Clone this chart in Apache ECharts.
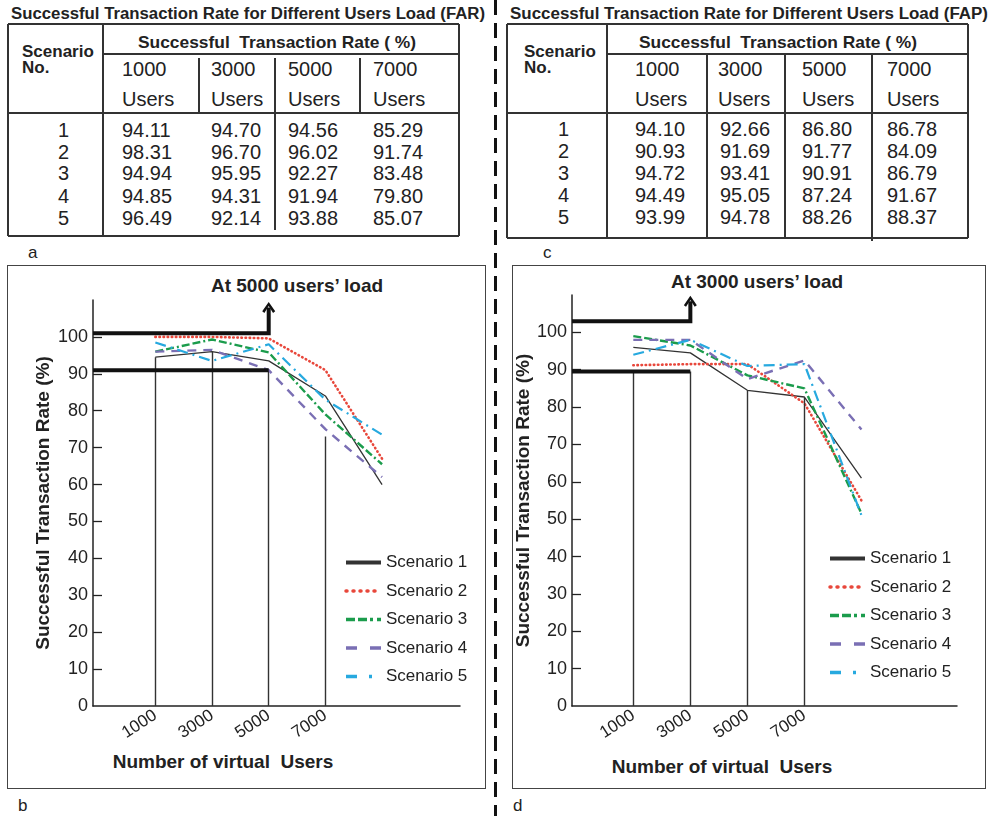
<!DOCTYPE html>
<html>
<head>
<meta charset="utf-8">
<script src="https://cdn.jsdelivr.net/npm/echarts@6/dist/echarts.min.js"></script>
<style>
  html, body { margin: 0; padding: 0; background: #fff; }
  #page { position: relative; width: 993px; height: 816px; overflow: hidden;
          font-family: "Liberation Sans", Arial, sans-serif; color: #222; }
  #chart { position: absolute; left: 0; top: 0; width: 993px; height: 816px; z-index: 2; }
  .ln { position: absolute; background: #333; }
  .tx { position: absolute; white-space: pre; line-height: 1; }
  .frame { position: absolute; border: 1.5px solid #444; box-sizing: border-box; }
</style>
</head>
<body>
<div id="page"><div id="chart"></div></div>
<script>
// 表格数据 (a: FAR, c: FAP)
var userCols = ['1000', '3000', '5000', '7000'];
var scenarioNo = ['1', '2', '3', '4', '5'];
var farTable = [
  ['94.11', '94.70', '94.56', '85.29'],
  ['98.31', '96.70', '96.02', '91.74'],
  ['94.94', '95.95', '92.27', '83.48'],
  ['94.85', '94.31', '91.94', '79.80'],
  ['96.49', '92.14', '93.88', '85.07']
];
var fapTable = [
  ['94.10', '92.66', '86.80', '86.78'],
  ['90.93', '91.69', '91.77', '84.09'],
  ['94.72', '93.41', '90.91', '86.79'],
  ['94.49', '95.05', '87.24', '91.67'],
  ['93.99', '94.78', '88.26', '88.37']
];

// 曲线图数据 (x = users)
var users = [1000, 3000, 5000, 7000, 9000];
var tickUsers = [1000, 3000, 5000, 7000];
var yTicks = [0, 10, 20, 30, 40, 50, 60, 70, 80, 90, 100];
var names = ['Scenario 1', 'Scenario 2', 'Scenario 3', 'Scenario 4', 'Scenario 5'];

var farS1 = [94.5, 96, 93.5, 84, 60];
var farS2 = [100, 100, 99.6, 91, 67];
var farS3 = [96, 99.3, 95.8, 79, 65.5];
var farS4 = [96, 96.5, 91, 75, 62];
var farS5 = [98.5, 93.5, 98, 83, 73.5];
var farDrop = [94.5, 96, 91, 73];
var farBars = [101, 91];      // thick marker levels
var farArrowTip = 108;

var fapS1 = [96, 94.5, 84.5, 82.7, 61];
var fapS2 = [91.2, 91.5, 91.5, 81, 55];
var fapS3 = [99, 96.5, 88.5, 85, 51.5];
var fapS4 = [98, 98, 87.5, 92.5, 74];
var fapS5 = [94, 98, 91, 91.5, 51];
var fapDrop = [89.5, 89.5, 84.5, 82.5];
var fapBars = [103, 89.5];
var fapArrowTip = 108.3;

// ---------- html helpers ----------
var page = document.getElementById('page');
var ctx = document.createElement('canvas').getContext('2d');
var FONT = '"Liberation Sans", Arial, sans-serif';

function ln(x, y, w, h) {
  var d = document.createElement('div');
  d.className = 'ln';
  d.style.left = x + 'px'; d.style.top = y + 'px';
  d.style.width = w + 'px'; d.style.height = h + 'px';
  page.appendChild(d);
}
function hl(x1, x2, y) { ln(x1, y - 0.75, x2 - x1, 1.5); }
function vl(x, y1, y2) { ln(x - 0.75, y1, 1.5, y2 - y1); }

function tx(str, x, y, o) {
  o = o || {};
  var size = o.size || 20, weight = o.bold ? 'bold' : 'normal';
  var d = document.createElement('div');
  d.className = 'tx';
  d.textContent = str;
  d.style.font = weight + ' ' + size + 'px ' + FONT;
  d.style.top = y + 'px';
  var sx = 1;
  if (o.width) {
    ctx.font = weight + ' ' + size + 'px ' + FONT;
    sx = o.width / ctx.measureText(str).width;
  }
  var align = o.align || 'left';
  var tX = align === 'center' ? '-50%' : (align === 'right' ? '-100%' : '0');
  d.style.left = x + 'px';
  d.style.transformOrigin = align === 'center' ? '50% 50%' : (align === 'right' ? '100% 50%' : '0 50%');
  d.style.transform = 'translate(' + tX + ', -50%) scaleX(' + sx + ')';
  page.appendChild(d);
}

// ---------- tables ----------
function drawTable(t) {
  tx(t.title, t.titleX, 14, { size: 16, bold: true, width: t.titleW });
  hl(t.x0, t.x1, 24); hl(t.xs, t.x1, 54); hl(t.x0, t.x1, 113); hl(t.x0, t.x1, t.yb);
  vl(t.x0, 24, t.yb); vl(t.x1, 24, t.yb); vl(t.xs, 24, t.yb);
  t.cols.forEach(function (c) { vl(c[0], c[1], c[2]); });
  tx('Scenario', t.scX, 52, { size: 17, bold: true });
  tx('No.', t.scX, 68, { size: 17, bold: true });
  tx('Successful  Transaction Rate ( %)', t.headX, 43, { size: 17, bold: true, align: 'center', width: 278 });
  userCols.forEach(function (u, j) {
    tx(u, t.hx[j], 69, { size: 20 });
    tx('Users', t.hx[j], 99, { size: 20 });
  });
  t.rows.forEach(function (row, i) {
    var y = t.rowY[i];
    tx(scenarioNo[i], t.noX, y, { size: 20, align: 'right' });
    row.forEach(function (v, j) { tx(v, t.dx[j], y, { size: 20 }); });
  });
  tx(t.label, t.labelX, 253, { size: 17 });
}

drawTable({
  title: 'Successful Transaction Rate for Different Users Load (FAR)', titleX: 11, titleW: 474,
  x0: 8, x1: 459, xs: 103, yb: 236,
  cols: [[199, 58, 113], [275, 58, 230], [360, 58, 113]],
  scX: 22, headX: 277, noX: 69,
  hx: [122, 211, 288, 373], dx: [122, 211, 288, 373],
  rowY: [130, 152, 173, 196, 218], rows: farTable, label: 'a', labelX: 28
});
drawTable({
  title: 'Successful Transaction Rate for Different Users Load (FAP)', titleX: 510, titleW: 478,
  x0: 507, x1: 968, xs: 607, yb: 238,
  cols: [[707, 54, 238], [785, 54, 238], [872, 54, 241]],
  scX: 524, headX: 778, noX: 569,
  hx: [635, 718, 802, 887], dx: [635, 720, 802, 887],
  rowY: [129, 151, 173, 195, 217], rows: fapTable, label: 'c', labelX: 543
});

// 面板边框, 分隔线, 标签
[[7, 265, 479, 524], [512, 265, 474, 524]].forEach(function (f) {
  var d = document.createElement('div');
  d.className = 'frame';
  d.style.left = f[0] + 'px'; d.style.top = f[1] + 'px';
  d.style.width = f[2] + 'px'; d.style.height = f[3] + 'px';
  page.appendChild(d);
});
var sep = document.createElement('div');
sep.style.cssText = 'position:absolute;left:494px;top:0;width:2.5px;height:816px;' +
  'background:repeating-linear-gradient(to bottom,#111 0,#111 15px,transparent 15px,transparent 23px);';
page.appendChild(sep);
tx('b', 18, 806, { size: 17 });
tx('d', 513, 806, { size: 17 });
tx('At 5000 users\u2019 load', 297, 286, { size: 19, bold: true, align: 'center' });
tx('At 3000 users\u2019 load', 757, 282, { size: 19, bold: true, align: 'center' });
tx('Number of virtual  Users', 223, 762, { size: 19, bold: true, align: 'center' });
tx('Number of virtual  Users', 722, 767, { size: 19, bold: true, align: 'center' });

// ---------- echarts ----------
var myChart = echarts.init(document.getElementById('chart'));

var styles = [
  { color: '#333333', width: 1.3, type: 'solid' },
  { color: '#e8473b', width: 2.6, type: [0.5, 3.6], cap: 'round' },
  { color: '#1b9c4c', width: 2.4, type: [8, 3, 8, 3, 2, 3] },
  { color: '#7a6fb4', width: 2.4, type: [9, 7] },
  { color: '#27a9df', width: 2.2, type: [11, 5, 2, 5] }
];
var legendLine = [
  { width: 4, type: 'solid' },
  { width: 3.5, type: [1, 6], cap: 'round' },
  { width: 3.5, type: [9, 3, 9, 3, 3, 4] },
  { width: 3.5, type: [11, 13] },
  { width: 3.5, type: [11, 12, 3, 20] }
];
var chevron = 'path://M0,9 L6,0 L12,9 L10,10.5 L6,4 L2,10.5 Z';

function panelSeries(k, scen, drops, bars, tip, arrowX, xMin) {
  var out = scen.map(function (vals, i) {
    return {
      name: names[i], type: 'line', xAxisIndex: k, yAxisIndex: k,
      symbol: 'none', silent: true, z: 3 + i,
      lineStyle: styles[i], itemStyle: { color: styles[i].color },
      data: users.map(function (u, j) { return [u, vals[j]]; })
    };
  });
  // 竖线
  out.push({
    type: 'line', xAxisIndex: k, yAxisIndex: k, data: [], silent: true,
    markLine: {
      silent: true, symbol: ['none', 'none'], label: { show: false }, animation: false,
      lineStyle: { color: '#333', width: 1.4, type: 'solid' },
      data: drops.map(function (v, j) { return [{ coord: [tickUsers[j], 0] }, { coord: [tickUsers[j], v] }]; })
    }
  });
  // 粗线和箭头
  out.push({
    type: 'line', xAxisIndex: k, yAxisIndex: k, silent: true, z: 10,
    symbol: 'none', showSymbol: true,
    lineStyle: { color: '#111', width: 4, join: 'miter', cap: 'butt' },
    data: [[xMin, bars[0]], [arrowX, bars[0]],
      { value: [arrowX, tip], symbol: chevron, symbolSize: [13, 11], itemStyle: { color: '#111' } }]
  });
  out.push({
    type: 'line', xAxisIndex: k, yAxisIndex: k, silent: true, z: 10, symbol: 'none',
    lineStyle: { color: '#111', width: 4 },
    data: [[xMin, bars[1]], [arrowX, bars[1]]]
  });
  return out;
}

function xAxisOf(k, min, max) {
  return {
    type: 'value', gridIndex: k, min: min, max: max,
    splitLine: { show: false }, axisTick: { show: false },
    axisLine: { onZero: false, lineStyle: { color: '#222', width: 1.5 } },
    axisLabel: { customValues: tickUsers, rotate: 33, fontSize: 17, color: '#222', margin: 8, fontFamily: FONT,
      formatter: function (v) { return String(v); } }
  };
}
function yAxisOf(k, gap) {
  return {
    type: 'value', gridIndex: k, min: 0, max: 110, interval: 10,
    name: 'Successful Transaction Rate (%)', nameLocation: 'middle', nameGap: gap,
    nameTextStyle: { fontSize: 19, fontWeight: 'bold', color: '#222', fontFamily: FONT },
    splitLine: { show: false },
    axisLine: { show: true, onZero: false, lineStyle: { color: '#222', width: 1.5 } },
    axisTick: { show: true, inside: true, length: 9, customValues: yTicks.slice(1),
      lineStyle: { color: '#222', width: 1.3 } },
    axisLabel: { customValues: yTicks, fontSize: 18, color: '#222', margin: 5, fontFamily: FONT }
  };
}
function legendOf(left, top) {
  return {
    orient: 'vertical', left: left, top: top, itemWidth: 35, itemHeight: 12, itemGap: 11.5,
    selectedMode: false,
    itemStyle: { opacity: 0 },
    textStyle: { fontSize: 17, color: '#222', fontFamily: FONT },
    data: names.map(function (n, i) { return { name: n, lineStyle: legendLine[i], itemStyle: { opacity: 0 } }; })
  };
}

var option = {
  animation: false,
  grid: [
    { left: 93, top: 300, width: 367, height: 406 },
    { left: 572, top: 295, width: 385, height: 411 }
  ],
  legend: [legendOf(339, 549), legendOf(823, 545)],
  xAxis: [xAxisOf(0, -1200, 11750), xAxisOf(1, -1150, 12350)],
  yAxis: [yAxisOf(0, 40), yAxisOf(1, 35)],
  series: [].concat(
    panelSeries(0, [farS1, farS2, farS3, farS4, farS5], farDrop, farBars, farArrowTip, 5000, -1200),
    panelSeries(1, [fapS1, fapS2, fapS3, fapS4, fapS5], fapDrop, fapBars, fapArrowTip, 3000, -1150)
  )
};

myChart.setOption(option);
</script>
</body>
</html>
